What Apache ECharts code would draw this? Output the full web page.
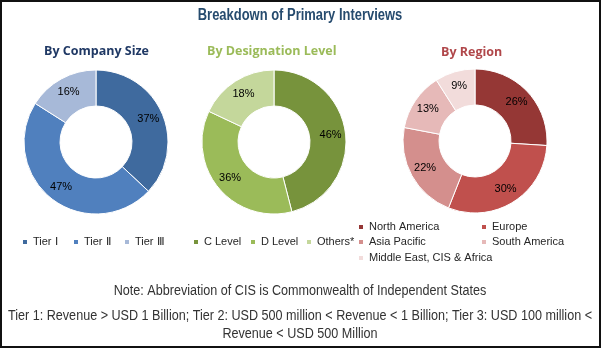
<!DOCTYPE html>
<html>
<head>
<meta charset="utf-8">
<script src="https://cdn.jsdelivr.net/npm/echarts@6/dist/echarts.min.js"></script>
<style>
html,body{margin:0;padding:0;background:#fff;}
#chart{width:601px;height:348px;}
</style>
</head>
<body>
<div id="chart"></div>
<script>
// ---- Data ----
const mainTitle = 'Breakdown of Primary Interviews';
const panelTitles = ['By Company Size', 'By Designation Level', 'By Region'];

const companyCategories = ['Tier \u2160', 'Tier \u2161', 'Tier \u2162'];
const companyValues = [37, 47, 16];

const designationCategories = ['C Level', 'D Level', 'Others*'];
const designationValues = [46, 36, 18];

const regionCategories = ['North America', 'Europe', 'Asia Pacific', 'South America', 'Middle East, CIS & Africa'];
const regionValues = [26, 30, 22, 13, 9];

const noteText = 'Note: Abbreviation of CIS is Commonwealth of Independent States';
const tierText = 'Tier 1: Revenue > USD 1 Billion; Tier 2: USD 500 million < Revenue < 1 Billion; Tier 3: USD 100 million <\nRevenue < USD 500 Million';

// ---- Styles / layout ----
const companyColors = ['#3F6A9E', '#5080BE', '#A7B9D8'];
const designationColors = ['#77933C', '#9BBB59', '#C4D79B'];
const regionColors = ['#953735', '#C0504D', '#D48F8D', '#E6B9B8', '#F2DCDB'];
const titleColors = ['#1F3864', '#9BBB59', '#B0474A'];

const pies = [
  {cats: companyCategories, vals: companyValues, colors: companyColors, center: [96, 142]},
  {cats: designationCategories, vals: designationValues, colors: designationColors, center: [274, 142]},
  {cats: regionCategories, vals: regionValues, colors: regionColors, center: [475, 141]}
];
const legendPos = [
  [[21, 242], [72, 242], [123, 242]],
  [[192, 242], [249, 242], [305, 242]],
  [[357, 227], [480, 227], [357, 242], [480, 242], [357, 258]]
];
const panelTitlePos = [[44, 51], [207, 51], [441, 52]];

const series = [];
const legends = [];
pies.forEach((p, i) => {
  series.push({
    type: 'pie',
    center: p.center,
    radius: [36, 72],
    startAngle: 90,
    clockwise: true,
    avoidLabelOverlap: false,
    emphasis: {disabled: true},
    itemStyle: {borderColor: '#ffffff', borderWidth: 1},
    label: {
      show: true, position: 'inside', formatter: '{c}%',
      color: '#000', fontSize: 11, fontFamily: 'Liberation Sans', textBorderWidth: 0
    },
    labelLine: {show: false},
    data: p.cats.map((c, j) => ({name: c, value: p.vals[j], itemStyle: {color: p.colors[j]}}))
  });
  p.cats.forEach((c, j) => {
    const pos = legendPos[i][j];
    legends.push({
      data: [c],
      left: pos[0], top: pos[1] - 6,
      padding: 0,
      icon: 'rect',
      itemWidth: 6, itemHeight: 6,
      selectedMode: false,
      textStyle: {fontSize: 11, color: '#262626', fontFamily: 'Liberation Sans', lineHeight: 12}
    });
  });
});

const narrow = '"Liberation Sans", Arial, sans-serif';
const graphics = [
  {type: 'rect', shape: {x: 1, y: 1, width: 599, height: 346}, style: {fill: 'none', stroke: '#111', lineWidth: 2}, silent: true},
  {type: 'text', x: 300, y: 16, scaleX: 0.81,
    style: {text: mainTitle, fill: '#264B6E', align: 'center', verticalAlign: 'middle', font: 'bold 16px ' + narrow}},
  {type: 'text', x: 300, y: 291, scaleX: 0.9,
    style: {text: noteText, fill: '#333', align: 'center', verticalAlign: 'middle', font: '14px ' + narrow}},
  {type: 'text', x: 300, y: 307, scaleX: 0.9,
    style: {text: tierText, fill: '#333', align: 'center', verticalAlign: 'top', lineHeight: 18, font: '14px ' + narrow}}
];
panelTitles.forEach((t, i) => {
  graphics.push({type: 'text', x: panelTitlePos[i][0], y: panelTitlePos[i][1],
    style: {text: t, fill: titleColors[i], verticalAlign: 'middle', font: 'bold 12.5px "Open Sans", sans-serif'}});
});

const chart = echarts.init(document.getElementById('chart'), null, {renderer: 'canvas'});
chart.setOption({
  animation: false,
  backgroundColor: '#fff',
  legend: legends,
  series: series,
  graphic: graphics
});
</script>
</body>
</html>
